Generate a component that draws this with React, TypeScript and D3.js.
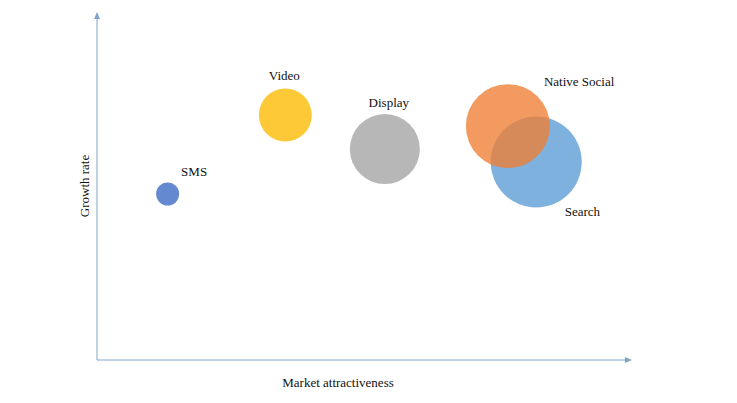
import React from "react";
import * as d3 from "d3";

const names = ["SMS", "Video", "Display", "Native Social", "Search"];
const attractiveness = [13.2, 35.2, 53.8, 76.8, 82.1];
const growth = [47.7, 70.4, 60.6, 67.2, 56.9];
const sizes = [5.3, 28, 49, 70.6, 82.8];
const colors = ["#4a74c8", "#fdc62c", "#b3b3b3", "#ee7d33", "#5b9bd5"];
const opacities = [0.85, 0.95, 0.95, 0.78, 0.78];
const drawOrder = [0, 1, 2, 4, 3];
const labelLayout: Record<string, { dx: number; dy: number; anchor: string }> = {
  SMS: { dx: 13.5, dy: -18, anchor: "start" },
  Video: { dx: -1, dy: -35, anchor: "middle" },
  Display: { dx: 4, dy: -42, anchor: "middle" },
  "Native Social": { dx: 36, dy: -40, anchor: "start" },
  Search: { dx: 28.5, dy: 54, anchor: "start" },
};

export default function App() {
  const W = 737, H = 403;
  const x0 = 97, x1 = 632, y0 = 360, y1 = 12;
  const x = d3.scaleLinear().domain([0, 100]).range([x0, x1]);
  const y = d3.scaleLinear().domain([0, 100]).range([y0, y1]);
  const r = d3.scaleSqrt().domain([0, 100]).range([0, 50]);
  const axisColor = "#7fa6c8";
  const font = "'Liberation Serif', 'Times New Roman', serif";
  return (
    <svg width={W} height={H} style={{ position: "absolute", left: 0, top: 0, background: "#fff" }}>
      <line x1={x0} y1={y0} x2={x0} y2={y1 + 5} stroke={axisColor} strokeWidth={1} />
      <path d={`M${x0 - 3},${y1 + 7} L${x0},${y1} L${x0 + 3},${y1 + 7} Z`} fill={axisColor} />
      <line x1={x0} y1={y0} x2={x1 - 5} y2={y0} stroke={axisColor} strokeWidth={1} />
      <path d={`M${x1 - 7},${y0 - 3} L${x1},${y0} L${x1 - 7},${y0 + 3} Z`} fill={axisColor} />
      {drawOrder.map((i) => (
        <circle key={names[i]} cx={x(attractiveness[i])} cy={y(growth[i])} r={r(sizes[i])}
          fill={colors[i]} fillOpacity={opacities[i]} />
      ))}
      {names.map((n, i) => {
        const l = labelLayout[n];
        return (
          <text key={n} x={x(attractiveness[i]) + l.dx} y={y(growth[i]) + l.dy} textAnchor={l.anchor}
            fontFamily={font} fontSize={13} fill="#111">{n}</text>
        );
      })}
      <text x={338} y={387} textAnchor="middle" fontFamily={font} fontSize={13} fill="#111">Market attractiveness</text>
      <text transform={`translate(89,186) rotate(-90)`} textAnchor="middle" fontFamily={font} fontSize={13} fill="#111">Growth rate</text>
    </svg>
  );
}
